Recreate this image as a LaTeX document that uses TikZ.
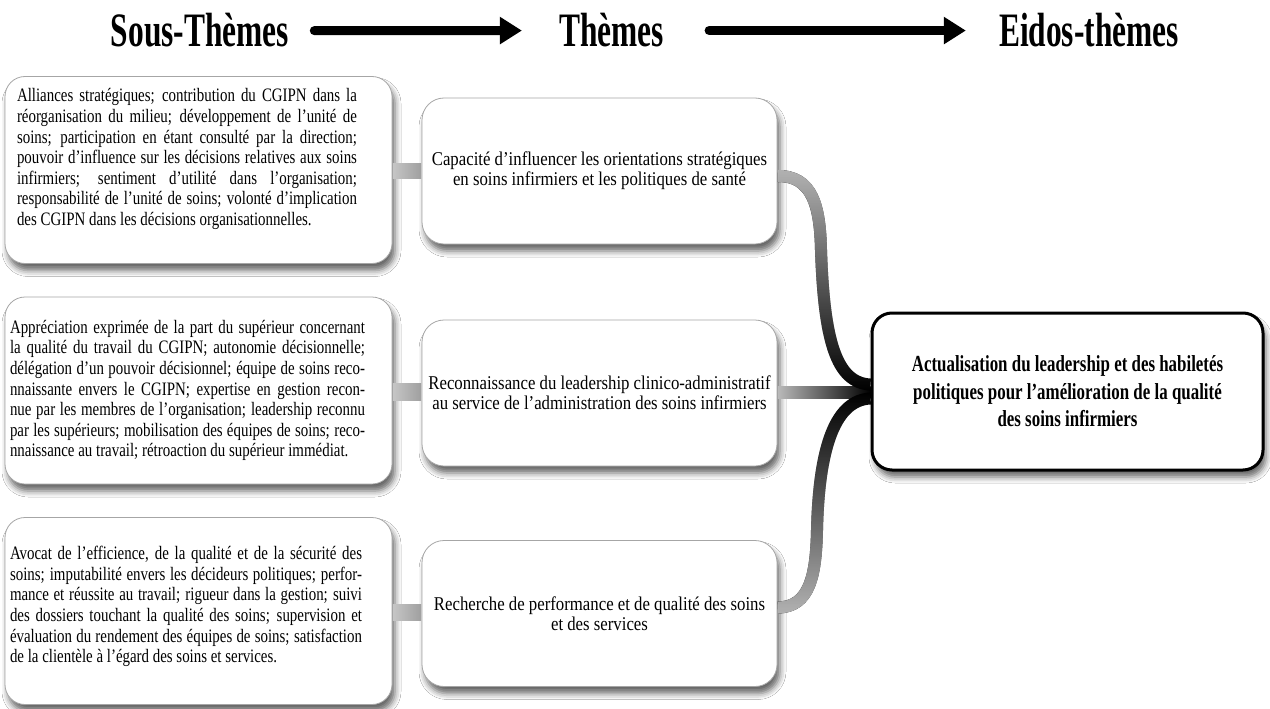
\documentclass[tikz,border=0pt]{standalone}
\usepackage{graphicx}
\usepackage{fontspec}
\setmainfont{Liberation Serif}
\newfontfamily\hdrfont{Liberation Serif}[FakeStretch=0.655]
\newfontfamily\subfont{Liberation Serif}[FakeStretch=0.785]
\newfontfamily\themefont{Liberation Serif}[FakeStretch=0.86]
\newfontfamily\eidosfont{Liberation Serif}[FakeStretch=0.735]
\usetikzlibrary{arrows.meta,shadows.blur,fadings,calc}
% justified lines of a sub-theme list: \jw is the line width,
% \joff an extra right margin that moves the block to the left
\newlength\jw
\newlength\joff
\newsavebox\jbox
\newcommand\jl[1]{\sbox\jbox{#1}%
  \ifdim\wd\jbox>\jw\resizebox{\jw}{\height}{\usebox\jbox}\else\makebox[\jw][s]{#1}\fi
  \rule{\joff}{0pt}}
\newcommand\jlast[1]{\makebox[\jw][l]{#1}\rule{\joff}{0pt}}
\tikzfading[name=fadetop, top color=transparent!0, bottom color=transparent!100]
\tikzfading[name=fadebottom, top color=transparent!100, bottom color=transparent!0]
\begin{document}
\begin{tikzpicture}[x=1pt,y=-1pt,
  boxshadow/.style={blur shadow={shadow xshift=3pt, shadow yshift=-7pt,
      shadow blur radius=6pt, shadow opacity=60}},
  header/.style={font=\hdrfont\bfseries\fontsize{48}{52}\selectfont, inner sep=0pt, anchor=base},
  hdrarrow/.style={line width=9pt, line cap=round, -{Triangle[length=22pt,width=26pt]}},
  subbox/.style={draw=gray!70, line width=0.8pt, fill=white, rounded corners=20pt,
      minimum width=387pt, minimum height=187pt, inner sep=0pt, boxshadow,
      font=\subfont\fontsize{19}{20.6}\selectfont, align=left},
  themebox/.style={draw=gray!70, line width=0.8pt, fill=white, rounded corners=22pt,
      minimum width=355pt, minimum height=146pt, inner sep=0pt, boxshadow,
      font=\themefont\fontsize{19.5}{20}\selectfont, align=center},
  eidosbox/.style={draw=black, line width=3pt, fill=white, rounded corners=20pt,
      minimum width=391pt, minimum height=157pt, inner sep=0pt, boxshadow,
      font=\eidosfont\bfseries\fontsize{23}{27.5}\selectfont, align=center},
  sidebar/.style={left color=gray!45, right color=gray!75},
  curvelink/.style={line width=12pt},
]
\fill[white] (0,0) rectangle (1270,709);
\useasboundingbox (0,0) rectangle (1270,709);

% column headings
\node[header] (h1) at (200,47) {Sous-Thèmes};
\node[header] (h2) at (611.5,47) {Thèmes};
\node[header] (h3) at (1089,47) {Eidos-thèmes};
\draw[hdrarrow] ([xshift=25pt]h1.east) -- ([xshift=-37pt]h2.west);
\draw[hdrarrow] ([xshift=45pt]h2.east) -- ([xshift=-33pt]h3.west);

% sub-themes
\setlength\jw{340pt}\setlength\joff{23pt}
\node[subbox, text depth=26pt] (s1) at (198.5,170) {%
\jl{Alliances stratégiques; contribution du CGIPN dans la}\\
\jl{réorganisation du milieu; développement de l’unité de}\\
\jl{soins; participation en étant consulté par la direction;}\\
\jl{pouvoir d’influence sur les décisions relatives aux soins}\\
\jl{infirmiers; sentiment d’utilité dans l’organisation;}\\
\jl{responsabilité de l’unité de soins; volonté d’implication}\\
\jlast{des CGIPN dans les décisions organisationnelles.}};
\setlength\jw{355pt}\setlength\joff{22pt}
\node[subbox] (s2) at (198.5,390.5) {%
\jl{Appréciation exprimée de la part du supérieur concernant}\\
\jl{la qualité du travail du CGIPN; autonomie décisionnelle;}\\
\jl{délégation d’un pouvoir décisionnel; équipe de soins reco-}\\
\jl{nnaissante envers le CGIPN; expertise en gestion recon-}\\
\jl{nue par les membres de l’organisation; leadership reconnu}\\
\jl{par les supérieurs; mobilisation des équipes de soins; reco-}\\
\jlast{nnaissance au travail; rétroaction du supérieur immédiat.}};
\setlength\jw{352pt}\setlength\joff{25pt}
\node[subbox, text depth=13pt] (s3) at (198.5,611) {%
\jl{Avocat de l’efficience, de la qualité et de la sécurité des}\\
\jl{soins; imputabilité envers les décideurs politiques; perfor-}\\
\jl{mance et réussite au travail; rigueur dans la gestion; suivi}\\
\jl{des dossiers touchant la qualité des soins; supervision et}\\
\jl{évaluation du rendement des équipes de soins; satisfaction}\\
\jlast{de la clientèle à l’égard des soins et services.}};

% themes
\node[themebox] (t1) at (599.5,171) {Capacité d’influencer les orientations stratégiques\\en soins infirmiers et les politiques de santé};
\node[themebox] (t2) at (599.5,393) {Reconnaissance du leadership clinico-administratif\\au service de l’administration des soins infirmiers};
\node[themebox] (t3) at (599.5,613.5) {Recherche de performance et de qualité des soins\\et des services};

% eidos-theme
\node[eidosbox] (e) at (1067.5,391.5) {Actualisation du leadership et des habiletés\\politiques pour l’amélioration de la qualité\\des soins infirmiers};

% sub-theme to theme bars
\shade[sidebar] ($(s1.east)+(0.5,-7)$) rectangle ($(t1.west)+(-0.5,7)$);
\shade[sidebar] ($(s2.east)+(0.5,-7)$) rectangle ($(t2.west)+(-0.5,7)$);
\shade[sidebar] ($(s3.east)+(0.5,-7)$) rectangle ($(t3.west)+(-0.5,7)$);

% theme to eidos-theme links
\shade[left color=gray!55, right color=black] ($(t2.east)+(0.5,-7)$) rectangle ($(e.west)+(0,7)$);

\draw[curvelink, black] ($(t1.east)+(0.5,5)$) .. controls (812,176) and (820,205) .. (821,250)
    .. controls (824,340) and (836,383) .. ($(e.west)+(0,-7)$);
\draw[curvelink, gray!60, path fading=fadetop] ($(t1.east)+(0.5,5)$) .. controls (812,176) and (820,205) .. (821,250)
    .. controls (824,340) and (836,383) .. ($(e.west)+(0,-7)$);

\draw[curvelink, black] ($(t3.east)+(0.5,-6)$) .. controls (810,607) and (816,575) .. (817,530)
    .. controls (819,445) and (836,400) .. ($(e.west)+(0,7)$);
\draw[curvelink, gray!60, path fading=fadebottom] ($(t3.east)+(0.5,-6)$) .. controls (810,607) and (816,575) .. (817,530)
    .. controls (819,445) and (836,400) .. ($(e.west)+(0,7)$);
\end{tikzpicture}
\end{document}
